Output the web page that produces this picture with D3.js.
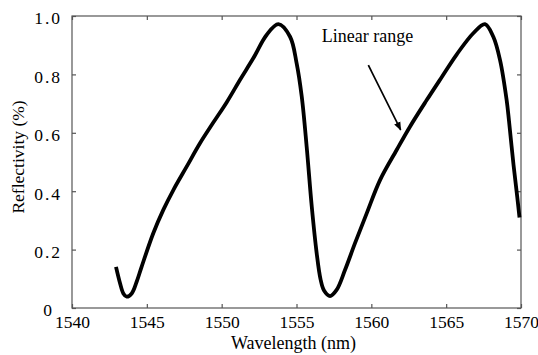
<!DOCTYPE html>
<html>
<head>
<meta charset="utf-8">
<script src="https://cdn.jsdelivr.net/npm/d3@7"></script>
<style>
  body { margin: 0; background: #fff; }
  svg text { font-family: "Liberation Serif", "Times New Roman", serif; fill: #000; }
</style>
</head>
<body>
<svg id="chart" width="538" height="355"></svg>
<script>
// wavelength (nm) and reflectivity
var wavelength = [1542.94, 1543.21, 1543.43, 1543.65, 1543.99, 1544.32, 1544.65, 1545.43,
  1546.1, 1546.77, 1547.66, 1548.55, 1549.44, 1550.34, 1551.22, 1552.11, 1553.0,
  1553.79, 1554.57, 1555.01, 1555.35, 1555.68, 1556.02, 1556.35, 1556.6,
  1556.84, 1557.24, 1557.68, 1558.24, 1558.91, 1559.69, 1560.58, 1561.69, 1562.58, 1563.7,
  1564.72, 1565.7, 1566.81, 1567.59, 1568.15, 1568.6, 1569.04, 1569.2, 1569.5, 1569.75, 1569.9];
var reflectivity = [0.141, 0.085, 0.05, 0.039, 0.05, 0.09, 0.141, 0.256,
  0.336, 0.404, 0.484, 0.564, 0.635, 0.705, 0.781, 0.855, 0.935,
  0.972, 0.929, 0.838, 0.724, 0.552, 0.347, 0.187, 0.1,
  0.06, 0.041, 0.062, 0.13, 0.222, 0.324, 0.438, 0.541, 0.621, 0.712,
  0.792, 0.868, 0.941, 0.972, 0.929, 0.849, 0.712, 0.64, 0.49, 0.38, 0.31];
var xTicks = [1540, 1545, 1550, 1555, 1560, 1565, 1570];
var yTicks = [0, 0.2, 0.4, 0.6, 0.8, 1.0];
// annotation: label position, arrow start and tip (data units)
var noteText = "Linear range";
var notePos = [1556.69, 0.912];
var arrowFrom = [1559.8, 0.832];
var arrowTo = [1561.96, 0.61];

var W = 538, H = 355;
var margin = {top: 16, right: 17, bottom: 47, left: 72};
var svg = d3.select("#chart");

var x = d3.scaleLinear().domain([1540, 1570]).range([margin.left, W - margin.right]);
var y = d3.scaleLinear().domain([0, 1]).range([H - margin.bottom, margin.top]);

var axisColor = "#555";
var serif = "'Liberation Serif', 'Times New Roman', serif";

// frame
svg.append("rect")
  .attr("x", x(1540)).attr("y", y(1))
  .attr("width", x(1570) - x(1540)).attr("height", y(0) - y(1))
  .attr("fill", "none").attr("stroke", axisColor).attr("stroke-width", 1.2);

function styleAxis(g) {
  g.select(".domain").remove();
  g.selectAll(".tick line").attr("stroke", axisColor).attr("stroke-width", 1.2);
  g.selectAll(".tick text")
    .attr("fill", "#000")
    .style("font-family", serif)
    .style("font-size", "17.5px");
}

var xb = svg.append("g").attr("transform", "translate(0," + y(0) + ")")
  .call(d3.axisBottom(x).tickValues(xTicks).tickSizeInner(-4).tickPadding(8).tickFormat(d3.format("d")));
styleAxis(xb);
var xt = svg.append("g").attr("transform", "translate(0," + y(1) + ")")
  .call(d3.axisTop(x).tickValues(xTicks).tickSizeInner(-4).tickFormat(""));
styleAxis(xt);

var fmtY = function(d){ return d === 0 ? "0" : d.toFixed(1); };
var yl = svg.append("g").attr("transform", "translate(" + x(1540) + ",0)")
  .call(d3.axisLeft(y).tickValues(yTicks).tickSizeInner(-4).tickPadding(10).tickFormat(fmtY));
styleAxis(yl);
yl.selectAll(".tick text")
  .attr("dy", "0.45em")
  .style("letter-spacing", "2px")
  .attr("x", function(d){ return d === 0 ? -18 : -10; });
var yr = svg.append("g").attr("transform", "translate(" + x(1570) + ",0)")
  .call(d3.axisRight(y).tickValues(yTicks).tickSizeInner(-4).tickFormat(""));
styleAxis(yr);

// curve
var pts = wavelength.map(function(d, i){ return [d, reflectivity[i]]; });
var line = d3.line()
  .x(function(d){ return x(d[0]); })
  .y(function(d){ return y(d[1]); })
  .curve(d3.curveCatmullRom.alpha(0.5));
svg.append("path")
  .datum(pts)
  .attr("d", line)
  .attr("fill", "none")
  .attr("stroke", "#000")
  .attr("stroke-width", 3.8)
  .attr("stroke-linejoin", "round")
  .attr("stroke-linecap", "butt");

// annotation
svg.append("defs").append("marker")
  .attr("id", "arrowhead")
  .attr("viewBox", "0 0 10 10")
  .attr("refX", 9).attr("refY", 5)
  .attr("markerWidth", 5).attr("markerHeight", 5)
  .attr("markerUnits", "strokeWidth")
  .attr("orient", "auto")
  .append("path")
    .attr("d", "M0,1L10,5L0,9z")
    .attr("fill", "#000");

svg.append("line")
  .attr("x1", x(arrowFrom[0])).attr("y1", y(arrowFrom[1]))
  .attr("x2", x(arrowTo[0])).attr("y2", y(arrowTo[1]))
  .attr("stroke", "#000").attr("stroke-width", 1.7)
  .attr("marker-end", "url(#arrowhead)");

svg.append("text")
  .attr("x", x(notePos[0])).attr("y", y(notePos[1]))
  .style("font-size", "18px")
  .text(noteText);

// axis titles
svg.append("text")
  .attr("x", (x(1540) + x(1570)) / 2 - 3)
  .attr("y", 349)
  .attr("text-anchor", "middle")
  .style("font-size", "18px")
  .text("Wavelength (nm)");

svg.append("text")
  .attr("transform", "translate(24," + 157 + ") rotate(-90)")
  .attr("text-anchor", "middle")
  .style("font-size", "17.5px")
  .text("Reflectivity (%)");
</script>
</body>
</html>
